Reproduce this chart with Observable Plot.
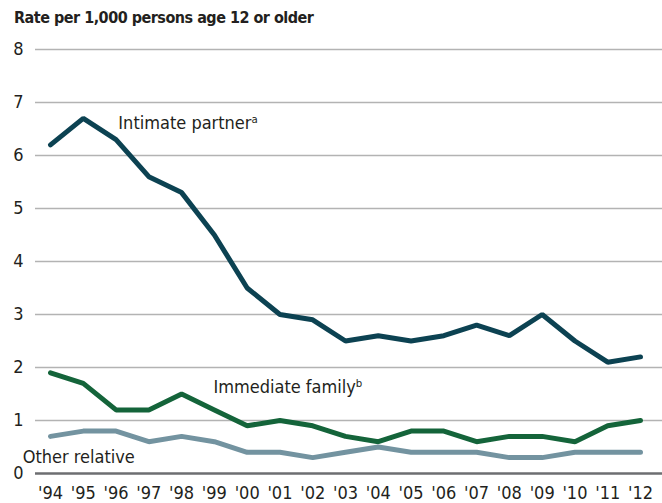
<!DOCTYPE html>
<html>
<head>
<meta charset="utf-8">
<script src="https://cdn.jsdelivr.net/npm/d3@7"></script>
<script src="https://cdn.jsdelivr.net/npm/@observablehq/plot@0.6"></script>
<style>
  html, body { margin: 0; padding: 0; background: #fff; }
  #title { font-family: "Liberation Sans Narrow", "DejaVu Sans Condensed", sans-serif; font-weight: bold; font-size: 16px; letter-spacing: -0.5px; color: #231f20; height: 36px; line-height: 36px; padding-left: 14px; box-sizing: border-box; }
  svg { display: block; }
</style>
</head>
<body>
<div id="title">Rate per 1,000 persons age 12 or older</div>
<div id="chart"></div>
<script>
const years = [1994,1995,1996,1997,1998,1999,2000,2001,2002,2003,2004,2005,2006,2007,2008,2009,2010,2011,2012];
const intimatePartner = [6.2,6.7,6.3,5.6,5.3,4.5,3.5,3.0,2.9,2.5,2.6,2.5,2.6,2.8,2.6,3.0,2.5,2.1,2.2];
const immediateFamily = [1.9,1.7,1.2,1.2,1.5,1.2,0.9,1.0,0.9,0.7,0.6,0.8,0.8,0.6,0.7,0.7,0.6,0.9,1.0];
const otherRelative = [0.7,0.8,0.8,0.6,0.7,0.6,0.4,0.4,0.3,0.4,0.5,0.4,0.4,0.4,0.3,0.3,0.4,0.4,0.4];
const seriesNames = ["Intimate partner", "Immediate family", "Other relative"];
const seriesColors = ["#0c4252", "#14643a", "#7393a0"];
const labelTexts = ["Intimate partner\u1d43", "Immediate family\u1d47", "Other relative"];
const labelYears = [1996.07, 1998.97, 1993.15];
const labelValues = [6.6, 1.62, 0.3];
const yTicks = [0,1,2,3,4,5,6,7,8];
const xTickLabels = years.map(y => "'" + String(y).slice(2));

const seriesValues = [intimatePartner, immediateFamily, otherRelative];
const rows = [];
seriesNames.forEach((name, i) => years.forEach((yr, j) => rows.push({series: name, year: yr, value: seriesValues[i][j]})));
const labels = labelTexts.map((t, i) => ({text: t, year: labelYears[i], value: labelValues[i]}));

const font = '"Liberation Sans Narrow", "DejaVu Sans Condensed", sans-serif';

const chart = Plot.plot({
  width: 662,
  height: 467,
  marginTop: 13,
  marginBottom: 30,
  marginLeft: 35,
  marginRight: 0,
  style: {fontFamily: font, fontSize: "18px", color: "#231f20", background: "#fff"},
  x: {domain: [1994, 2012], range: [50, 640], axis: null},
  y: {domain: [0, 8], axis: null},
  color: {domain: seriesNames, range: seriesColors},
  marks: [
    Plot.ruleY(yTicks.filter(d => d > 0), {stroke: "#b3b3b3", strokeWidth: 1.5}),
    Plot.ruleY([0], {stroke: "#6d6e71", strokeWidth: 2.5}),
    Plot.text(yTicks, {x: 1994, y: d => d, text: d => String(d), dx: -32, textAnchor: "middle", fontSize: 18, fill: "#231f20"}),
    Plot.text(years, {x: d => d, y: 0, text: (d, i) => xTickLabels[i], dy: 20, fontSize: 18, fill: "#231f20"}),
    Plot.line(rows, {x: "year", y: "value", z: "series", stroke: "series", strokeWidth: 5, strokeLinejoin: "miter", strokeLinecap: "round"}),
    Plot.text(labels, {x: "year", y: "value", text: "text", textAnchor: "start", fontSize: 18, fill: "#231f20"})
  ]
});
document.getElementById("chart").appendChild(chart);
</script>
</body>
</html>
